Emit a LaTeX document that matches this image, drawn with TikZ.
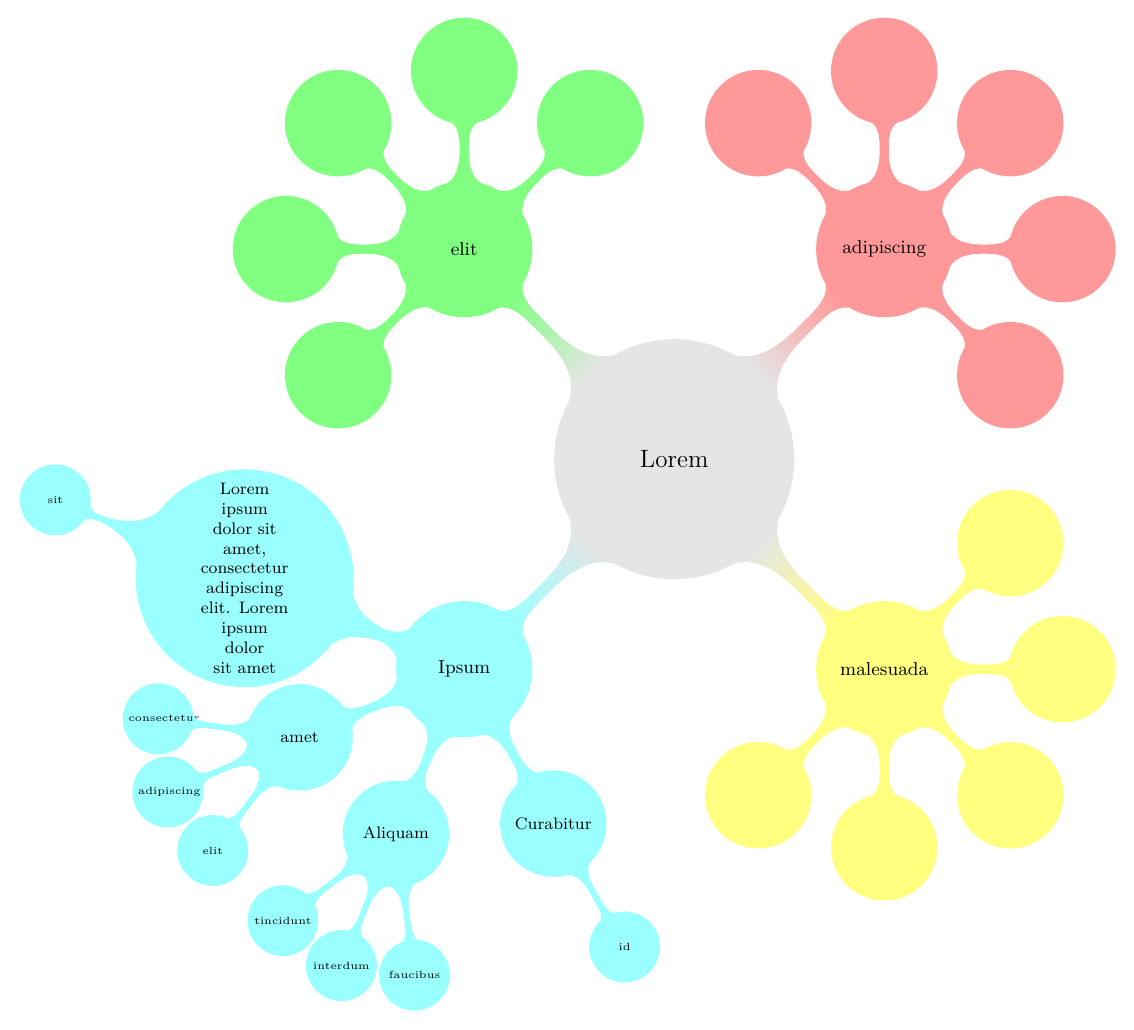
\documentclass[tikz,border=0pt]{standalone}
\usetikzlibrary{mindmap}
\definecolor{ipsumcolor}{RGB}{153,255,255}
\definecolor{malesuadacolor}{RGB}{255,255,128}
\definecolor{adipiscingcolor}{RGB}{255,153,153}
\definecolor{elitcolor}{RGB}{128,255,128}
\definecolor{loremcolor}{RGB}{229,229,229}
\begin{document}
\begin{tikzpicture}[mindmap, grow cyclic, every node/.style=concept, concept color=loremcolor,
  level 1/.append style={level distance=5cm,sibling angle=90},
  level 2/.append style={level distance=3cm,sibling angle=45},
  level 3/.append style={level distance=2.4cm,sibling angle=30}]
\useasboundingbox (-11.35,-9.60) rectangle (7.74,7.73);
\node (lorem) {Lorem}
  child [concept color=ipsumcolor] { node (ipsum) {Ipsum}
    child [level distance=4cm] { node (longtext) {Lorem ipsum dolor sit amet, consectetur adipiscing elit. Lorem ipsum dolor sit amet}
      child [level distance=3.45cm] { node (sit) {sit} } }
    child { node (amet) {amet}
      child { node (consectetur) {consectetur} }
      child { node (adipiscingleaf) {adipiscing} }
      child { node (elitleaf) {elit} } }
    child { node (aliquam) {Aliquam}
      child { node (tincidunt) {tincidunt} }
      child { node (interdum) {interdum} }
      child { node (faucibus) {faucibus} } }
    child [rotate=7.5] { node (curabitur) {Curabitur}
      child { node (id) {id} } }
  }
  child [concept color=malesuadacolor] { node (malesuada) {malesuada}
    child { node (malesuada1) {} }
    child { node (malesuada2) {} }
    child { node (malesuada3) {} }
    child { node (malesuada4) {} }
    child { node (malesuada5) {} }
  }
  child [concept color=adipiscingcolor] { node (adipiscing) {adipiscing}
    child { node (adipiscing1) {} }
    child { node (adipiscing2) {} }
    child { node (adipiscing3) {} }
    child { node (adipiscing4) {} }
    child { node (adipiscing5) {} }
  }
  child [concept color=elitcolor] { node (elit) {elit}
    child { node (elit1) {} }
    child { node (elit2) {} }
    child { node (elit3) {} }
    child { node (elit4) {} }
    child { node (elit5) {} }
  };
\end{tikzpicture}
\end{document}
